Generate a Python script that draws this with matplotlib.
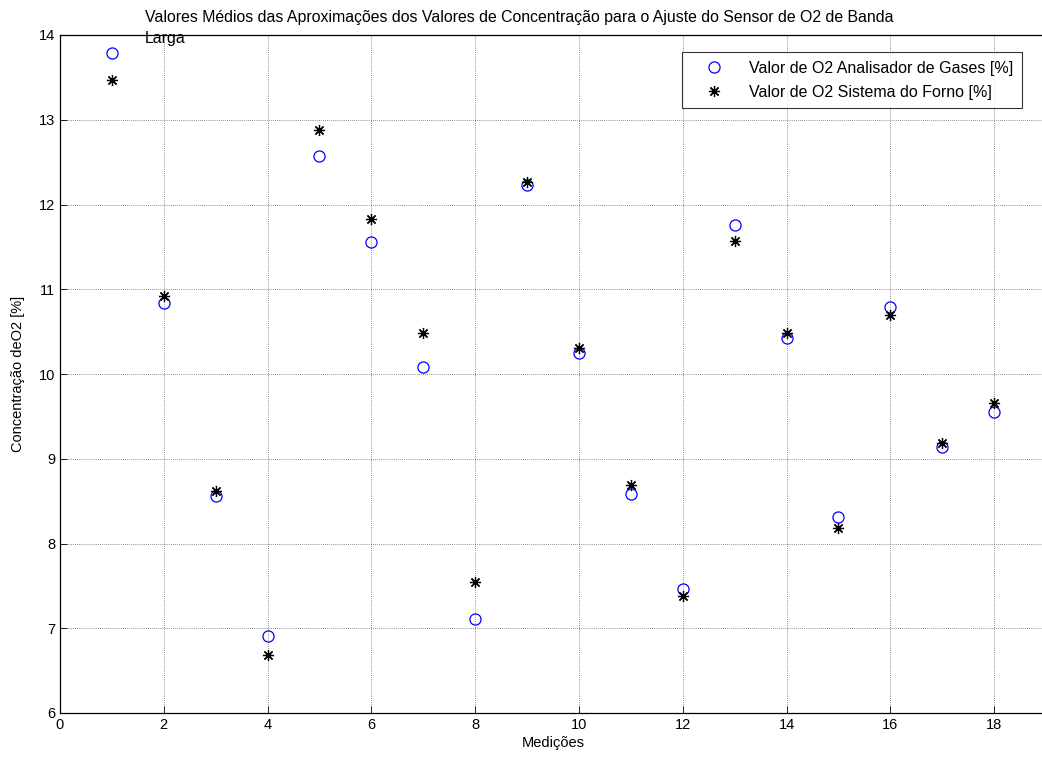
import matplotlib
matplotlib.use("Agg")
import matplotlib.pyplot as plt

plt.rcParams['font.family'] = ['Liberation Sans', 'DejaVu Sans']

medicoes = list(range(1, 19))
analisador = [13.79, 10.84, 8.56, 6.91, 12.57, 11.56, 10.08, 7.11, 12.23,
              10.25, 8.58, 7.46, 11.76, 10.42, 8.31, 10.79, 9.14, 9.55]
forno = [13.47, 10.92, 8.62, 6.68, 12.88, 11.83, 10.48, 7.54, 12.26,
         10.31, 8.69, 7.38, 11.57, 10.48, 8.18, 10.70, 9.18, 9.66]

W, H = 1042, 758
fig = plt.figure(figsize=(W / 100, H / 100), dpi=100)
ax = fig.add_axes([60 / W, 45 / H, 986 / W, 678 / H])

ax.plot(medicoes, analisador, linestyle='none', marker='o', markersize=8,
        markerfacecolor='none', markeredgecolor='blue', markeredgewidth=0.9,
        label='Valor de O2 Analisador de Gases [%]')
ax.plot(medicoes, forno, linestyle='none', marker=(8, 2, 0), markersize=8,
        color='black', markeredgewidth=0.9,
        label='Valor de O2 Sistema do Forno [%]')

ax.set_xlim(0, 19)
ax.set_ylim(6, 14)
ax.set_xticks(range(0, 19, 2))
ax.set_yticks(range(6, 15))
ax.grid(True, linestyle=(0, (1, 1.5)), color='#666666', linewidth=0.6)
ax.tick_params(direction='in', length=5, labelsize=10.5, width=0.6)
for s in ax.spines.values():
    s.set_linewidth(0.9)

ax.set_xlabel('Medições', fontsize=10.5, labelpad=3)
ax.set_ylabel('Concentração deO2 [%]', fontsize=10.5, labelpad=10)

fig.text(145 / W, 1 - 28 / H,
         'Valores Médios das Aproximações dos Valores de Concentração para o Ajuste do Sensor de O2 de Banda\nLarga',
         ha='left', va='center', fontsize=11.4, linespacing=1.5, zorder=5)

leg = ax.legend(loc='upper left',
                bbox_to_anchor=((682 - 60) / 986, 1 - (52 - 35) / 678),
                bbox_transform=ax.transAxes, borderaxespad=0,
                fontsize=11.5, frameon=True, fancybox=False, edgecolor='black',
                borderpad=0.55, handletextpad=0.75, labelspacing=0.55,
                handlelength=2.9)
leg.get_frame().set_linewidth(0.8)

fig.savefig('out.png', dpi=100)
